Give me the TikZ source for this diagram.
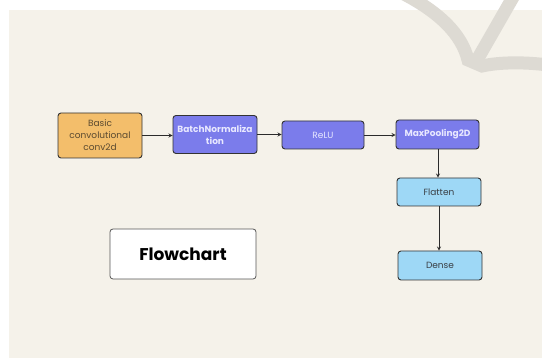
\documentclass[tikz,border=0pt]{standalone}
\usepackage{fontspec}
\setmainfont{Poppins}

\definecolor{paper}{HTML}{F5F2EA}
\definecolor{swooshcol}{HTML}{DDDAD3}
\definecolor{boxline}{HTML}{333333}
\definecolor{linkcol}{HTML}{2B2B2B}
\definecolor{convfill}{HTML}{F3BE6B}
\definecolor{convtext}{HTML}{5A4A30}
\definecolor{layerfill}{HTML}{7B7CEB}
\definecolor{layertext}{HTML}{E8E8FF}
\definecolor{densefill}{HTML}{9ED8F6}
\definecolor{densetext}{HTML}{3A3F45}
\definecolor{titleline}{HTML}{555555}

\begin{document}
\begin{tikzpicture}[x=1pt,y=-1pt,
    box/.style={draw=boxline, line width=0.9pt, rounded corners=3pt, align=center,
                inner sep=0pt, font=\fontsize{9}{12}\selectfont},
    boldbox/.style={box, font=\fontsize{9}{12}\selectfont\bfseries},
    convbox/.style={box, fill=convfill, text=convtext, minimum width=84pt, minimum height=45pt},
    layerbox/.style={fill=layerfill, text=layertext, minimum width=83pt, minimum height=29pt},
    densebox/.style={box, fill=densefill, text=densetext, minimum width=84pt, minimum height=28pt},
    link/.style={->, >=stealth, line width=0.8pt, draw=linkcol},
    swoosh/.style={draw=swooshcol, line width=13pt}]

% page and backdrop
\fill[white] (0,0) rectangle (542,358);
\fill[paper] (9,10) rectangle (542,358);
\begin{scope}
  \clip (0,0) rectangle (542,358);
  \draw[swoosh] (400,-8) .. controls (440,12) and (462,35) .. (468,60)
                -- (482,66) .. controls (500,62) and (525,62) .. (548,65);
  \draw[swoosh] (516,-8) -- (477,60);
\end{scope}
\useasboundingbox (0,0) rectangle (542,358);

% layers
\node[convbox] (conv) at (100,135.5) {Basic\\convolutional\\conv2d};
\node[boldbox, layerbox, minimum width=84pt, minimum height=38pt] (bn) at (215,134.5) {BatchNormaliza\\tion};
\node[box, layerbox, minimum width=82pt, minimum height=28pt] (relu) at (323,135) {ReLU};
\node[boldbox, layerbox] (pool) at (437.5,134.5) {MaxPooling2D};
\node[densebox] (flat) at (439,192) {Flatten};
\node[densebox, minimum height=29pt] (dense) at (440,265.5) {Dense};

% title card
\node[draw=titleline, fill=white, rounded corners=3pt, line width=0.8pt,
      minimum width=146pt, minimum height=50pt,
      font=\fontsize{17}{20}\selectfont\bfseries] (title) at (183,254) {Flowchart};

% connectors
\draw[link] (conv.east) -- (bn.west |- conv.east);
\draw[link] (bn.east) -- (relu.west |- bn.east);
\draw[link] (relu.east) -- (pool.west |- relu.east);
\draw[link] (pool.south -| 438,0) -- (438,0 |- flat.north);
\draw[link] (flat.south) -- (flat.south |- dense.north);

\end{tikzpicture}
\end{document}
